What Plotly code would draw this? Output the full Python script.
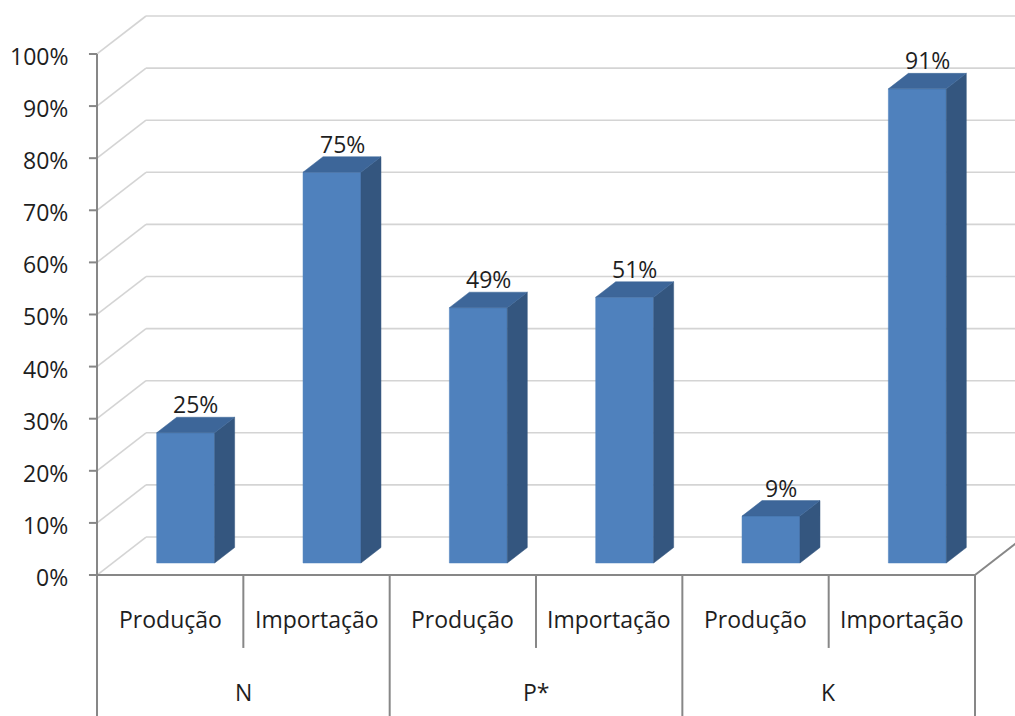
import plotly.graph_objects as go

# ---- data ----
groups = ["N", "P*", "K"]
subcats = ["Produção", "Importação", "Produção", "Importação", "Produção", "Importação"]
values = [25, 75, 49, 51, 9, 91]
y_ticks = [0, 10, 20, 30, 40, 50, 60, 70, 80, 90, 100]
tick_labels = [f"{t}%" for t in y_ticks]

# ---- pseudo-3D geometry (data units) ----
DX, DY = 0.335, 7.29        # full depth vector in category units / percent units
D1, D2 = 0.316, 0.724       # bar front/back depth fraction
HW = 0.198                  # half bar width (category units)
XMIN, XMAX = -0.6629, 6.2732
YMIN, YMAX = -27.06, 110.36

FRONT = "#4F81BD"
SIDE = "#34567F"
TOP = "#3D6699"
GRID = "#D4D4D4"
AXIS = "#878787"
TEXT = "#1E1E1E"
FONT = "Open Sans"
FS = 23

fig = go.Figure()

def poly(xs, ys, color):
    fig.add_trace(go.Scatter(x=xs + [xs[0]], y=ys + [ys[0]], mode="lines", fill="toself",
                             fillcolor=color, line=dict(color=color, width=0.5),
                             hoverinfo="skip", showlegend=False))

shapes = []
def line(x0, y0, x1, y1, color, width):
    shapes.append(dict(type="line", xref="x", yref="y", x0=x0, y0=y0, x1=x1, y1=y1,
                       line=dict(color=color, width=width), layer="below"))

# gridlines on side + back wall
for t in y_ticks:
    line(0, t, DX, t + DY, GRID, 1.6)
    line(DX, t + DY, XMAX + 1, t + DY, GRID, 1.6)

# bars
n = len(values)
for i, v in enumerate(values):
    c = i + 0.5
    xl = c - HW + D1 * DX
    xr = c + HW + D1 * DX
    yb = D1 * DY
    xl2 = c - HW + D2 * DX
    xr2 = c + HW + D2 * DX
    yb2 = D2 * DY
    poly([xl, xr, xr, xl], [yb, yb, yb + v, yb + v], FRONT)
    poly([xr, xr2, xr2, xr], [yb, yb2, yb2 + v, yb + v], SIDE)
    poly([xl, xr, xr2, xl2], [yb + v, yb + v, yb2 + v, yb2 + v], TOP)

annotations = []
for i, v in enumerate(values):
    c = i + 0.5
    annotations.append(dict(x=c + (D1 + D2) / 2 * DX, y=v + D2 * DY, xref="x", yref="y",
                            text=f"{v}%", showarrow=False, xanchor="center", yanchor="bottom",
                            yshift=-5, font=dict(family=FONT, size=FS, color=TEXT)))

# axes
line(0, YMIN, 0, 100, AXIS, 2)
for t, lab in zip(y_ticks, tick_labels):
    line(-0.055, t, 0, t, AXIS, 2)
    annotations.append(dict(x=-0.1845, y=t, xref="x", yref="y", text=lab, showarrow=False,
                            xanchor="right", yanchor="middle", yshift=-2,
                            font=dict(family=FONT, size=FS, color=TEXT)))
line(0, 0, n, 0, AXIS, 2)
line(n, 0, n + DX * 1.5, DY * 1.5, AXIS, 2)
for k in range(1, n + 1):
    if k % 2 == 1:
        line(k, 0, k, -14.0, AXIS, 2)
    else:
        line(k, 0, k, YMIN, AXIS, 2)

for i, s in enumerate(subcats):
    annotations.append(dict(x=i + 0.5, y=-8.45, xref="x", yref="y", text=s, showarrow=False,
                            xanchor="center", yanchor="middle",
                            font=dict(family=FONT, size=FS, color=TEXT)))
for g, name in enumerate(groups):
    annotations.append(dict(x=2 * g + 1, y=-22.46, xref="x", yref="y", text=name, showarrow=False,
                            xanchor="center", yanchor="middle",
                            font=dict(family=FONT, size=FS, color=TEXT)))

fig.update_layout(
    width=1015, height=716, autosize=False,
    margin=dict(l=0, r=0, t=0, b=0),
    paper_bgcolor="white", plot_bgcolor="white",
    xaxis=dict(range=[XMIN, XMAX], visible=False, fixedrange=True),
    yaxis=dict(range=[YMIN, YMAX], visible=False, fixedrange=True),
    shapes=shapes, annotations=annotations, showlegend=False,
)

fig.write_html("out.html")
